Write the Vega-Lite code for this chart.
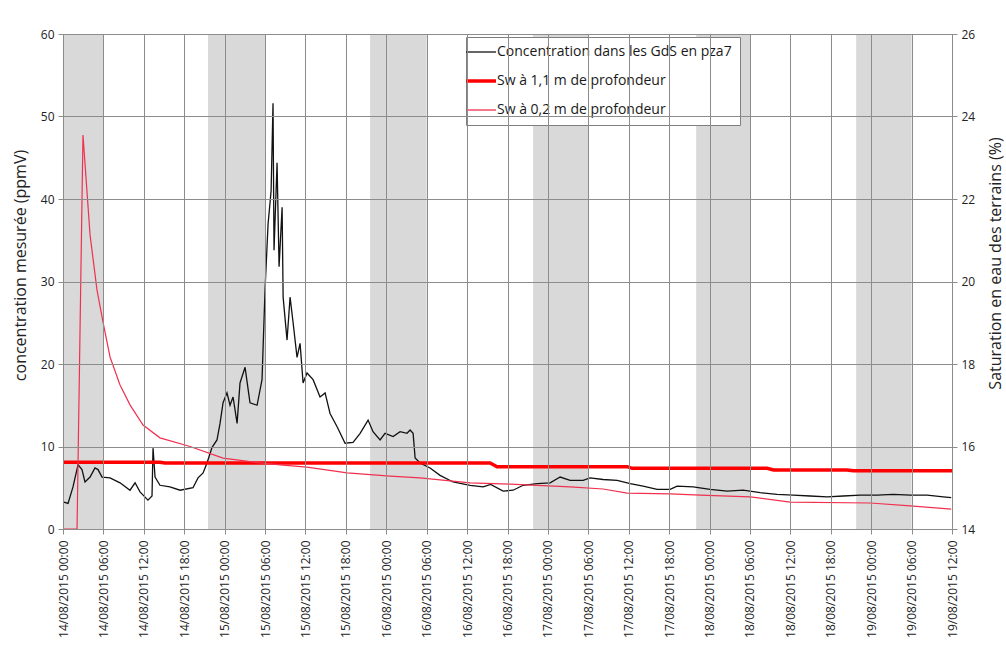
{
  "$schema": "https://vega.github.io/schema/vega-lite/v6.json",
  "width": 889,
  "height": 495,
  "autosize": "none",
  "padding": {"left": 63, "top": 34, "right": 54, "bottom": 137},
  "background": "white",
  "config": {
    "font": "Open Sans",
    "view": {"stroke": "#8c8c8c", "strokeWidth": 1}
  },
  "datasets": {
    "bands": [
      {"t": "2015-08-14T00:00", "t2": "2015-08-14T06:00"},
      {"t": "2015-08-14T21:32", "t2": "2015-08-15T06:00"},
      {"t": "2015-08-15T21:36", "t2": "2015-08-16T06:00"},
      {"t": "2015-08-16T21:48", "t2": "2015-08-17T06:00"},
      {"t": "2015-08-17T22:01", "t2": "2015-08-18T06:00"},
      {"t": "2015-08-18T21:46", "t2": "2015-08-19T06:00"}
    ],
    "conc": [
      {"t": "2015-08-14T00:00", "v": 3.3, "series": "Concentration dans les GdS en pza7"},
      {"t": "2015-08-14T00:45", "v": 3.1, "series": "Concentration dans les GdS en pza7"},
      {"t": "2015-08-14T01:29", "v": 5.1, "series": "Concentration dans les GdS en pza7"},
      {"t": "2015-08-14T02:14", "v": 7.8, "series": "Concentration dans les GdS en pza7"},
      {"t": "2015-08-14T02:49", "v": 7.2, "series": "Concentration dans les GdS en pza7"},
      {"t": "2015-08-14T03:16", "v": 5.7, "series": "Concentration dans les GdS en pza7"},
      {"t": "2015-08-14T04:01", "v": 6.3, "series": "Concentration dans les GdS en pza7"},
      {"t": "2015-08-14T04:45", "v": 7.4, "series": "Concentration dans les GdS en pza7"},
      {"t": "2015-08-14T05:12", "v": 7.2, "series": "Concentration dans les GdS en pza7"},
      {"t": "2015-08-14T05:48", "v": 6.3, "series": "Concentration dans les GdS en pza7"},
      {"t": "2015-08-14T06:59", "v": 6.2, "series": "Concentration dans les GdS en pza7"},
      {"t": "2015-08-14T08:28", "v": 5.6, "series": "Concentration dans les GdS en pza7"},
      {"t": "2015-08-14T09:57", "v": 4.7, "series": "Concentration dans les GdS en pza7"},
      {"t": "2015-08-14T10:42", "v": 5.6, "series": "Concentration dans les GdS en pza7"},
      {"t": "2015-08-14T11:26", "v": 4.5, "series": "Concentration dans les GdS en pza7"},
      {"t": "2015-08-14T12:37", "v": 3.5, "series": "Concentration dans les GdS en pza7"},
      {"t": "2015-08-14T13:13", "v": 4.0, "series": "Concentration dans les GdS en pza7"},
      {"t": "2015-08-14T13:22", "v": 9.8, "series": "Concentration dans les GdS en pza7"},
      {"t": "2015-08-14T13:40", "v": 6.3, "series": "Concentration dans les GdS en pza7"},
      {"t": "2015-08-14T14:24", "v": 5.3, "series": "Concentration dans les GdS en pza7"},
      {"t": "2015-08-14T15:53", "v": 5.1, "series": "Concentration dans les GdS en pza7"},
      {"t": "2015-08-14T17:23", "v": 4.7, "series": "Concentration dans les GdS en pza7"},
      {"t": "2015-08-14T19:18", "v": 5.0, "series": "Concentration dans les GdS en pza7"},
      {"t": "2015-08-14T20:03", "v": 6.2, "series": "Concentration dans les GdS en pza7"},
      {"t": "2015-08-14T20:48", "v": 6.8, "series": "Concentration dans les GdS en pza7"},
      {"t": "2015-08-14T21:23", "v": 8.0, "series": "Concentration dans les GdS en pza7"},
      {"t": "2015-08-14T22:08", "v": 9.9, "series": "Concentration dans les GdS en pza7"},
      {"t": "2015-08-14T22:52", "v": 10.8, "series": "Concentration dans les GdS en pza7"},
      {"t": "2015-08-14T23:19", "v": 12.8, "series": "Concentration dans les GdS en pza7"},
      {"t": "2015-08-14T23:46", "v": 15.3, "series": "Concentration dans les GdS en pza7"},
      {"t": "2015-08-15T00:21", "v": 16.5, "series": "Concentration dans les GdS en pza7"},
      {"t": "2015-08-15T00:48", "v": 15.0, "series": "Concentration dans les GdS en pza7"},
      {"t": "2015-08-15T01:15", "v": 16.0, "series": "Concentration dans les GdS en pza7"},
      {"t": "2015-08-15T01:51", "v": 12.8, "series": "Concentration dans les GdS en pza7"},
      {"t": "2015-08-15T02:17", "v": 17.7, "series": "Concentration dans les GdS en pza7"},
      {"t": "2015-08-15T03:02", "v": 19.6, "series": "Concentration dans les GdS en pza7"},
      {"t": "2015-08-15T03:46", "v": 15.3, "series": "Concentration dans les GdS en pza7"},
      {"t": "2015-08-15T04:49", "v": 15.0, "series": "Concentration dans les GdS en pza7"},
      {"t": "2015-08-15T05:33", "v": 18.1, "series": "Concentration dans les GdS en pza7"},
      {"t": "2015-08-15T06:00", "v": 29.0, "series": "Concentration dans les GdS en pza7"},
      {"t": "2015-08-15T06:27", "v": 37.0, "series": "Concentration dans les GdS en pza7"},
      {"t": "2015-08-15T06:54", "v": 41.0, "series": "Concentration dans les GdS en pza7"},
      {"t": "2015-08-15T07:11", "v": 51.6, "series": "Concentration dans les GdS en pza7"},
      {"t": "2015-08-15T07:20", "v": 33.8, "series": "Concentration dans les GdS en pza7"},
      {"t": "2015-08-15T07:47", "v": 44.4, "series": "Concentration dans les GdS en pza7"},
      {"t": "2015-08-15T08:05", "v": 31.8, "series": "Concentration dans les GdS en pza7"},
      {"t": "2015-08-15T08:32", "v": 39.0, "series": "Concentration dans les GdS en pza7"},
      {"t": "2015-08-15T08:41", "v": 28.1, "series": "Concentration dans les GdS en pza7"},
      {"t": "2015-08-15T09:16", "v": 22.9, "series": "Concentration dans les GdS en pza7"},
      {"t": "2015-08-15T09:43", "v": 28.1, "series": "Concentration dans les GdS en pza7"},
      {"t": "2015-08-15T10:10", "v": 25.0, "series": "Concentration dans les GdS en pza7"},
      {"t": "2015-08-15T10:45", "v": 20.8, "series": "Concentration dans les GdS en pza7"},
      {"t": "2015-08-15T11:12", "v": 22.5, "series": "Concentration dans les GdS en pza7"},
      {"t": "2015-08-15T11:39", "v": 17.7, "series": "Concentration dans les GdS en pza7"},
      {"t": "2015-08-15T12:14", "v": 18.9, "series": "Concentration dans les GdS en pza7"},
      {"t": "2015-08-15T13:08", "v": 18.1, "series": "Concentration dans les GdS en pza7"},
      {"t": "2015-08-15T14:10", "v": 16.0, "series": "Concentration dans les GdS en pza7"},
      {"t": "2015-08-15T14:55", "v": 16.5, "series": "Concentration dans les GdS en pza7"},
      {"t": "2015-08-15T15:39", "v": 14.0, "series": "Concentration dans les GdS en pza7"},
      {"t": "2015-08-15T16:42", "v": 12.4, "series": "Concentration dans les GdS en pza7"},
      {"t": "2015-08-15T17:53", "v": 10.4, "series": "Concentration dans les GdS en pza7"},
      {"t": "2015-08-15T19:04", "v": 10.5, "series": "Concentration dans les GdS en pza7"},
      {"t": "2015-08-15T20:07", "v": 11.6, "series": "Concentration dans les GdS en pza7"},
      {"t": "2015-08-15T21:18", "v": 13.2, "series": "Concentration dans les GdS en pza7"},
      {"t": "2015-08-15T22:02", "v": 11.8, "series": "Concentration dans les GdS en pza7"},
      {"t": "2015-08-15T23:05", "v": 10.8, "series": "Concentration dans les GdS en pza7"},
      {"t": "2015-08-15T23:49", "v": 11.6, "series": "Concentration dans les GdS en pza7"},
      {"t": "2015-08-16T01:01", "v": 11.2, "series": "Concentration dans les GdS en pza7"},
      {"t": "2015-08-16T02:03", "v": 11.8, "series": "Concentration dans les GdS en pza7"},
      {"t": "2015-08-16T03:05", "v": 11.6, "series": "Concentration dans les GdS en pza7"},
      {"t": "2015-08-16T03:32", "v": 12.0, "series": "Concentration dans les GdS en pza7"},
      {"t": "2015-08-16T03:59", "v": 11.6, "series": "Concentration dans les GdS en pza7"},
      {"t": "2015-08-16T04:17", "v": 8.6, "series": "Concentration dans les GdS en pza7"},
      {"t": "2015-08-16T05:01", "v": 8.0, "series": "Concentration dans les GdS en pza7"},
      {"t": "2015-08-16T06:30", "v": 7.4, "series": "Concentration dans les GdS en pza7"},
      {"t": "2015-08-16T07:59", "v": 6.5, "series": "Concentration dans les GdS en pza7"},
      {"t": "2015-08-16T09:55", "v": 5.7, "series": "Concentration dans les GdS en pza7"},
      {"t": "2015-08-16T12:27", "v": 5.3, "series": "Concentration dans les GdS en pza7"},
      {"t": "2015-08-16T14:23", "v": 5.1, "series": "Concentration dans les GdS en pza7"},
      {"t": "2015-08-16T15:30", "v": 5.4, "series": "Concentration dans les GdS en pza7"},
      {"t": "2015-08-16T17:21", "v": 4.6, "series": "Concentration dans les GdS en pza7"},
      {"t": "2015-08-16T18:50", "v": 4.7, "series": "Concentration dans les GdS en pza7"},
      {"t": "2015-08-16T20:19", "v": 5.3, "series": "Concentration dans les GdS en pza7"},
      {"t": "2015-08-16T22:24", "v": 5.5, "series": "Concentration dans les GdS en pza7"},
      {"t": "2015-08-17T00:20", "v": 5.6, "series": "Concentration dans les GdS en pza7"},
      {"t": "2015-08-17T01:49", "v": 6.3, "series": "Concentration dans les GdS en pza7"},
      {"t": "2015-08-17T03:18", "v": 5.9, "series": "Concentration dans les GdS en pza7"},
      {"t": "2015-08-17T05:14", "v": 5.9, "series": "Concentration dans les GdS en pza7"},
      {"t": "2015-08-17T06:16", "v": 6.2, "series": "Concentration dans les GdS en pza7"},
      {"t": "2015-08-17T08:12", "v": 6.0, "series": "Concentration dans les GdS en pza7"},
      {"t": "2015-08-17T10:17", "v": 5.9, "series": "Concentration dans les GdS en pza7"},
      {"t": "2015-08-17T12:13", "v": 5.5, "series": "Concentration dans les GdS en pza7"},
      {"t": "2015-08-17T14:08", "v": 5.2, "series": "Concentration dans les GdS en pza7"},
      {"t": "2015-08-17T16:13", "v": 4.8, "series": "Concentration dans les GdS en pza7"},
      {"t": "2015-08-17T18:09", "v": 4.8, "series": "Concentration dans les GdS en pza7"},
      {"t": "2015-08-17T19:11", "v": 5.2, "series": "Concentration dans les GdS en pza7"},
      {"t": "2015-08-17T21:34", "v": 5.1, "series": "Concentration dans les GdS en pza7"},
      {"t": "2015-08-18T00:05", "v": 4.8, "series": "Concentration dans les GdS en pza7"},
      {"t": "2015-08-18T02:37", "v": 4.6, "series": "Concentration dans les GdS en pza7"},
      {"t": "2015-08-18T04:59", "v": 4.7, "series": "Concentration dans les GdS en pza7"},
      {"t": "2015-08-18T07:31", "v": 4.4, "series": "Concentration dans les GdS en pza7"},
      {"t": "2015-08-18T10:02", "v": 4.2, "series": "Concentration dans les GdS en pza7"},
      {"t": "2015-08-18T12:25", "v": 4.1, "series": "Concentration dans les GdS en pza7"},
      {"t": "2015-08-18T14:56", "v": 4.0, "series": "Concentration dans les GdS en pza7"},
      {"t": "2015-08-18T17:28", "v": 3.9, "series": "Concentration dans les GdS en pza7"},
      {"t": "2015-08-18T19:51", "v": 4.0, "series": "Concentration dans les GdS en pza7"},
      {"t": "2015-08-18T22:22", "v": 4.1, "series": "Concentration dans les GdS en pza7"},
      {"t": "2015-08-19T00:54", "v": 4.1, "series": "Concentration dans les GdS en pza7"},
      {"t": "2015-08-19T03:16", "v": 4.2, "series": "Concentration dans les GdS en pza7"},
      {"t": "2015-08-19T05:48", "v": 4.1, "series": "Concentration dans les GdS en pza7"},
      {"t": "2015-08-19T08:19", "v": 4.1, "series": "Concentration dans les GdS en pza7"},
      {"t": "2015-08-19T10:42", "v": 3.9, "series": "Concentration dans les GdS en pza7"},
      {"t": "2015-08-19T11:53", "v": 3.8, "series": "Concentration dans les GdS en pza7"}
    ],
    "sw11": [
      {"t": "2015-08-14T00:00", "sw": 15.62, "series": "Sw à 1,1 m de profondeur"},
      {"t": "2015-08-14T14:24", "sw": 15.62, "series": "Sw à 1,1 m de profondeur"},
      {"t": "2015-08-14T15:09", "sw": 15.60, "series": "Sw à 1,1 m de profondeur"},
      {"t": "2015-08-16T15:25", "sw": 15.60, "series": "Sw à 1,1 m de profondeur"},
      {"t": "2015-08-16T16:27", "sw": 15.51, "series": "Sw à 1,1 m de profondeur"},
      {"t": "2015-08-17T11:46", "sw": 15.51, "series": "Sw à 1,1 m de profondeur"},
      {"t": "2015-08-17T12:30", "sw": 15.47, "series": "Sw à 1,1 m de profondeur"},
      {"t": "2015-08-18T08:33", "sw": 15.47, "series": "Sw à 1,1 m de profondeur"},
      {"t": "2015-08-18T09:30", "sw": 15.43, "series": "Sw à 1,1 m de profondeur"},
      {"t": "2015-08-18T20:26", "sw": 15.43, "series": "Sw à 1,1 m de profondeur"},
      {"t": "2015-08-18T21:20", "sw": 15.41, "series": "Sw à 1,1 m de profondeur"},
      {"t": "2015-08-19T12:00", "sw": 15.41, "series": "Sw à 1,1 m de profondeur"}
    ],
    "sw02": [
      {"t": "2015-08-14T00:00", "sw": 14.0, "series": "Sw à 0,2 m de profondeur"},
      {"t": "2015-08-14T02:05", "sw": 14.0, "series": "Sw à 0,2 m de profondeur"},
      {"t": "2015-08-14T02:58", "sw": 23.55, "series": "Sw à 0,2 m de profondeur"},
      {"t": "2015-08-14T04:01", "sw": 21.13, "series": "Sw à 0,2 m de profondeur"},
      {"t": "2015-08-14T05:03", "sw": 19.79, "series": "Sw à 0,2 m de profondeur"},
      {"t": "2015-08-14T05:56", "sw": 19.02, "series": "Sw à 0,2 m de profondeur"},
      {"t": "2015-08-14T06:59", "sw": 18.17, "series": "Sw à 0,2 m de profondeur"},
      {"t": "2015-08-14T08:28", "sw": 17.49, "series": "Sw à 0,2 m de profondeur"},
      {"t": "2015-08-14T09:57", "sw": 17.01, "series": "Sw à 0,2 m de profondeur"},
      {"t": "2015-08-14T11:53", "sw": 16.52, "series": "Sw à 0,2 m de profondeur"},
      {"t": "2015-08-14T14:24", "sw": 16.21, "series": "Sw à 0,2 m de profondeur"},
      {"t": "2015-08-14T18:52", "sw": 16.0, "series": "Sw à 0,2 m de profondeur"},
      {"t": "2015-08-14T23:46", "sw": 15.72, "series": "Sw à 0,2 m de profondeur"},
      {"t": "2015-08-15T04:49", "sw": 15.61, "series": "Sw à 0,2 m de profondeur"},
      {"t": "2015-08-15T08:40", "sw": 15.55, "series": "Sw à 0,2 m de profondeur"},
      {"t": "2015-08-15T12:14", "sw": 15.50, "series": "Sw à 0,2 m de profondeur"},
      {"t": "2015-08-15T18:11", "sw": 15.36, "series": "Sw à 0,2 m de profondeur"},
      {"t": "2015-08-16T00:34", "sw": 15.28, "series": "Sw à 0,2 m de profondeur"},
      {"t": "2015-08-16T05:01", "sw": 15.24, "series": "Sw à 0,2 m de profondeur"},
      {"t": "2015-08-16T12:27", "sw": 15.12, "series": "Sw à 0,2 m de profondeur"},
      {"t": "2015-08-16T18:23", "sw": 15.09, "series": "Sw à 0,2 m de profondeur"},
      {"t": "2015-08-17T03:18", "sw": 15.02, "series": "Sw à 0,2 m de profondeur"},
      {"t": "2015-08-17T08:12", "sw": 14.97, "series": "Sw à 0,2 m de profondeur"},
      {"t": "2015-08-17T11:46", "sw": 14.87, "series": "Sw à 0,2 m de profondeur"},
      {"t": "2015-08-17T18:09", "sw": 14.85, "series": "Sw à 0,2 m de profondeur"},
      {"t": "2015-08-17T22:36", "sw": 14.82, "series": "Sw à 0,2 m de profondeur"},
      {"t": "2015-08-18T06:02", "sw": 14.78, "series": "Sw à 0,2 m de profondeur"},
      {"t": "2015-08-18T11:58", "sw": 14.65, "series": "Sw à 0,2 m de profondeur"},
      {"t": "2015-08-18T23:51", "sw": 14.63, "series": "Sw à 0,2 m de profondeur"},
      {"t": "2015-08-19T05:48", "sw": 14.56, "series": "Sw à 0,2 m de profondeur"},
      {"t": "2015-08-19T11:53", "sw": 14.48, "series": "Sw à 0,2 m de profondeur"}
    ]
  },
  "layer": [
    {
      "data": {"name": "bands"},
      "mark": {"type": "rect", "fill": "#d9d9d9"},
      "encoding": {
        "x": {
          "field": "t", "type": "temporal",
          "scale": {"nice": false},
          "axis": {
            "title": null, "grid": true, "format": "%d/%m/%Y %H:%M", "tickCount": 22,
            "labelAngle": 270, "labelAlign": "right", "labelBaseline": "middle",
            "labelFontSize": 12, "labelPadding": 6, "tickSize": 5, "labelColor": "#222222",
            "gridColor": "#8c8c8c", "domainColor": "#8c8c8c", "tickColor": "#8c8c8c",
            "labelOverlap": false, "labelFlush": false, "labelBound": false, "zindex": 1
          }
        },
        "x2": {"field": "t2"}
      }
    },
    {
      "data": {"name": "conc"},
      "mark": {"type": "line", "strokeWidth": 1.3},
      "encoding": {
        "x": {"field": "t", "type": "temporal"},
        "y": {
          "field": "v", "type": "quantitative",
          "scale": {"domain": [0, 60], "nice": false},
          "axis": {
            "orient": "left", "values": [0, 10, 20, 30, 40, 50, 60], "grid": true,
            "title": "concentration mesurée (ppmV)", "tickSize": 5, "labelPadding": 4,
            "labelFontSize": 12, "titleFontSize": 16, "titleFontWeight": "normal", "titleAngle": 270,
            "titleX": -43, "titleY": 231, "titleAlign": "center", "titleBaseline": "middle",
            "labelColor": "#222222", "titleColor": "#222222",
            "gridColor": "#8c8c8c", "domainColor": "#8c8c8c", "tickColor": "#8c8c8c", "zindex": 1
          }
        },
        "color": {
          "field": "series", "type": "nominal",
          "scale": {
            "domain": ["Concentration dans les GdS en pza7", "Sw à 1,1 m de profondeur", "Sw à 0,2 m de profondeur"],
            "range": ["#111111", "#ff0000", "#f0304e"]
          },
          "legend": {
            "title": null, "orient": "none", "legendX": 403, "legendY": 3,
            "symbolType": "stroke", "symbolSize": 900, "symbolStrokeWidth": 1.3, "labelFontSize": 14,
            "labelColor": "#1a1a1a", "fillColor": "white", "strokeColor": "#7f7f7f",
            "padding": 8, "symbolOffset": 0, "labelOffset": 9, "rowPadding": 15, "labelLimit": 400,
            "encode": {"symbols": {"update": {"strokeWidth": {"signal": "datum.label === 'Sw à 1,1 m de profondeur' ? 3.5 : 1.3"}}}}
          }
        }
      }
    },
    {
      "layer": [
        {
          "data": {"name": "sw11"},
          "mark": {"type": "line", "strokeWidth": 3.5},
          "encoding": {
            "x": {"field": "t", "type": "temporal"},
            "y": {
              "field": "sw", "type": "quantitative",
              "scale": {"domain": [14, 26], "nice": false},
              "axis": {
                "orient": "right", "values": [14, 16, 18, 20, 22, 24, 26], "grid": false,
                "title": "Saturation en eau des terrains (%)", "tickSize": 5, "labelPadding": 4,
                "labelFontSize": 12, "titleFontSize": 16, "titleFontWeight": "normal", "titleAngle": 270,
                "titleX": 43, "titleY": 229, "titleAlign": "center", "titleBaseline": "middle",
                "labelColor": "#222222", "titleColor": "#222222",
                "domainColor": "#8c8c8c", "tickColor": "#8c8c8c"
              }
            },
            "color": {"field": "series", "type": "nominal"}
          }
        },
        {
          "data": {"name": "sw02"},
          "mark": {"type": "line", "strokeWidth": 1.2},
          "encoding": {
            "x": {"field": "t", "type": "temporal"},
            "y": {"field": "sw", "type": "quantitative"},
            "color": {"field": "series", "type": "nominal"}
          }
        }
      ]
    }
  ],
  "resolve": {"scale": {"y": "independent"}}
}
